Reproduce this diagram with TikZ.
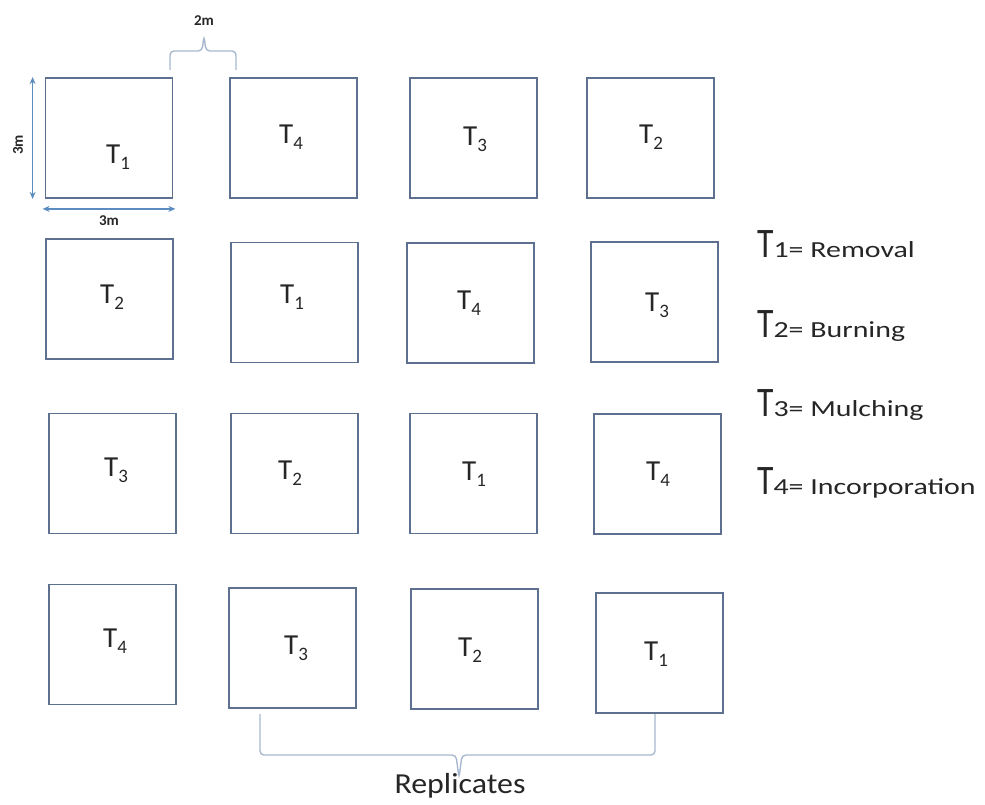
\documentclass[tikz,border=0pt]{standalone}
\usepackage{fontspec}
\setmainfont{Carlito}
\usetikzlibrary{arrows.meta,calc}

\definecolor{boxline}{HTML}{5E7090}
\definecolor{dimblue}{HTML}{5B8CC0}
\definecolor{bracecol}{HTML}{A8B8D0}
\definecolor{ink}{HTML}{262626}

% treatment label: T with a lowered index
\newcommand{\trt}[1]{T\raisebox{-0.22em}{\fontsize{19}{19}\selectfont #1}}
% legend entry: large T, then index and name in a wide face
\newcommand{\legentry}[2]{\scalebox{0.8}[1]{\fontsize{42}{42}\selectfont T}\scalebox{1.3}[1]{\fontsize{23}{23}\selectfont #1= #2}}

\tikzset{
  plotbox/.style={draw=boxline, line width=1.8pt, minimum width=127pt, minimum height=120pt, inner sep=0pt},
  trtlabel/.style={font=\fontsize{29}{29}\selectfont, inner sep=0pt, text=ink},
  dimarrow/.style={draw=dimblue, line width=1.6pt, {Stealth[length=7pt,width=6pt]}-{Stealth[length=7pt,width=6pt]}},
  dimtext/.style={font=\fontsize{15}{15}\selectfont\bfseries, text=ink, inner sep=0pt},
  bracepath/.style={draw=bracecol, line width=1.4pt, rounded corners=4pt},
  legtext/.style={anchor=base west, inner sep=0pt, text=ink}
}

\begin{document}
\begin{tikzpicture}[x=1pt,y=-1pt]
\useasboundingbox (0,0) rectangle (985,804);

% field plots, row by row
\node[plotbox] (b11) at (109,138) {};
\node[plotbox] (b12) at (293.5,138) {};
\node[plotbox] (b13) at (473.5,138) {};
\node[plotbox] (b14) at (650.5,138) {};

\node[plotbox] (b21) at (109.5,299) {};
\node[plotbox] (b22) at (294.5,302.5) {};
\node[plotbox] (b23) at (470.5,303) {};
\node[plotbox] (b24) at (654.5,302) {};

\node[plotbox] (b31) at (112.5,473.5) {};
\node[plotbox] (b32) at (294.5,473.5) {};
\node[plotbox] (b33) at (473.5,473.5) {};
\node[plotbox] (b34) at (657.5,474) {};

\node[plotbox] (b41) at (112.5,644.5) {};
\node[plotbox] (b42) at (292.5,648) {};
\node[plotbox] (b43) at (474.5,649) {};
\node[plotbox] (b44) at (659.5,653) {};

% treatment labels
\node[trtlabel] (l11) at (118,157) {\trt{1}};
\node[trtlabel] (l12) at (291,137) {\trt{4}};
\node[trtlabel] (l13) at (475,139) {\trt{3}};
\node[trtlabel] (l14) at (651,137) {\trt{2}};

\node[trtlabel] (l21) at (112,297) {\trt{2}};
\node[trtlabel] (l22) at (292,297) {\trt{1}};
\node[trtlabel] (l23) at (469,303) {\trt{4}};
\node[trtlabel] (l24) at (657,305) {\trt{3}};

\node[trtlabel] (l31) at (116,470) {\trt{3}};
\node[trtlabel] (l32) at (290,473) {\trt{2}};
\node[trtlabel] (l33) at (474,474) {\trt{1}};
\node[trtlabel] (l34) at (658,474) {\trt{4}};

\node[trtlabel] (l41) at (115,641) {\trt{4}};
\node[trtlabel] (l42) at (296,648) {\trt{3}};
\node[trtlabel] (l43) at (470,650) {\trt{2}};
\node[trtlabel] (l44) at (656,654) {\trt{1}};

% plot dimensions
\draw[dimarrow] ([xshift=-12pt]b11.north west) -- ([xshift=-12pt]b11.south west);
\node[dimtext, rotate=90] (dv) at (18,145) {3m};
\draw[dimarrow] ([yshift=-10pt,xshift=-2pt]b11.south west) -- ([yshift=-10pt,xshift=2pt]b11.south east);
\node[dimtext] (dh) at (109,221) {3m};

% spacing between plots
\coordinate (tl) at (170,70);
\coordinate (tr) at (236,70);
\coordinate (ttip) at (204,36);
\draw[bracepath] (tl) |- (202,51) -- (ttip) -- (206,51) -| (tr);
\node[dimtext] (gap) at (204,21) {2m};

% replicates brace under the bottom row
\coordinate (bl) at (260,714);
\coordinate (br) at (655,714);
\coordinate (btip) at (459,778);
\draw[bracepath] (bl) |- (456,755) -- (btip) -- (462,755) -| (br);
\node[inner sep=0pt, text=ink] (rep) at (460,786) {\scalebox{1.1}[1]{\fontsize{29}{29}\selectfont Replicates}};

% legend
\node[legtext] (k1) at (757,257) {\legentry{1}{Removal}};
\node[legtext] (k2) at (757,337) {\legentry{2}{Burning}};
\node[legtext] (k3) at (757,416) {\legentry{3}{Mulching}};
\node[legtext] (k4) at (757,494) {\legentry{4}{Incorporation}};
\end{tikzpicture}
\end{document}
